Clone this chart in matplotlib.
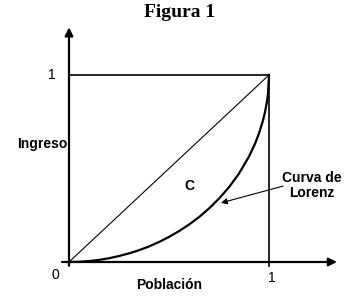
import numpy as np
import matplotlib.pyplot as plt

# Datos (Curva de Lorenz)
poblacion = [0.0, 0.05, 0.1, 0.15, 0.2, 0.25, 0.3, 0.35, 0.4, 0.45, 0.5, 0.55, 0.6,
             0.65, 0.7, 0.75, 0.8, 0.85, 0.9, 0.93, 0.95, 0.97, 0.98, 0.99, 0.995, 1.0]
ingreso = [0.0, 0.001, 0.005, 0.011, 0.02, 0.032, 0.046, 0.063, 0.083, 0.107, 0.134,
           0.165, 0.2, 0.24, 0.286, 0.339, 0.4, 0.473, 0.564, 0.632, 0.688, 0.757,
           0.801, 0.859, 0.9, 1.0]

# Linea de igualdad
igualdad_x = [0.0, 1.0]
igualdad_y = [0.0, 1.0]

fig = plt.figure(figsize=(3.44, 3.06), dpi=100)
ax = fig.add_axes([0, 0, 1, 1])
ax.set_xlim(-0.345, 1.375)
ax.set_ylim(-0.2353, 1.401)
ax.axis('off')

sans = 'Liberation Sans'

# Ejes con flechas
ax.annotate('', xy=(0, 1.255), xytext=(0, -0.02),
            arrowprops=dict(arrowstyle='-|>', color='black', lw=1.6,
                            mutation_scale=12, shrinkA=0, shrinkB=0))
ax.annotate('', xy=(1.34, 0), xytext=(-0.035, 0),
            arrowprops=dict(arrowstyle='-|>', color='black', lw=1.6,
                            mutation_scale=12, shrinkA=0, shrinkB=0))

# Cuadro: linea superior y vertical en x=1
ax.plot([0, 1], [1, 1], color='black', lw=1.2)
ax.plot([1, 1], [-0.02, 1], color='black', lw=1.2)

# Diagonal
ax.plot(igualdad_x, igualdad_y, color='black', lw=0.8)

# Curva de Lorenz
ax.plot(poblacion, ingreso, color='black', lw=1.6)

# Textos
fig.text(0.523, 0.96, 'Figura 1', ha='center', va='center',
         fontfamily='Liberation Serif', fontweight='bold', fontsize=14)
ax.text(-0.065, 1.0, '1', ha='right', va='center', fontfamily=sans, fontsize=10)
ax.text(-0.05, -0.07, '0', ha='right', va='center', fontfamily=sans, fontsize=10)
ax.text(1.015, -0.085, '1', ha='center', va='center', fontfamily=sans, fontsize=10)
ax.text(-0.01, 0.63, 'Ingreso', ha='right', va='center', fontfamily=sans,
        fontweight='bold', fontsize=10)
ax.text(0.5, -0.123, 'Población', ha='center', va='center', fontfamily=sans,
        fontweight='bold', fontsize=10)
ax.text(0.6, 0.405, 'C', ha='center', va='center', fontfamily=sans,
        fontweight='bold', fontsize=10)
ax.text(1.215, 0.41, 'Curva de\nLorenz', ha='center', va='center', fontfamily=sans,
        fontweight='bold', fontsize=10, linespacing=1.1)

# Flecha hacia la curva
ax.annotate('', xy=(0.76, 0.316), xytext=(1.07, 0.406),
            arrowprops=dict(arrowstyle='-|>', color='black', lw=0.8,
                            mutation_scale=9, shrinkA=0, shrinkB=0))

fig.savefig('out.png', dpi=100)
